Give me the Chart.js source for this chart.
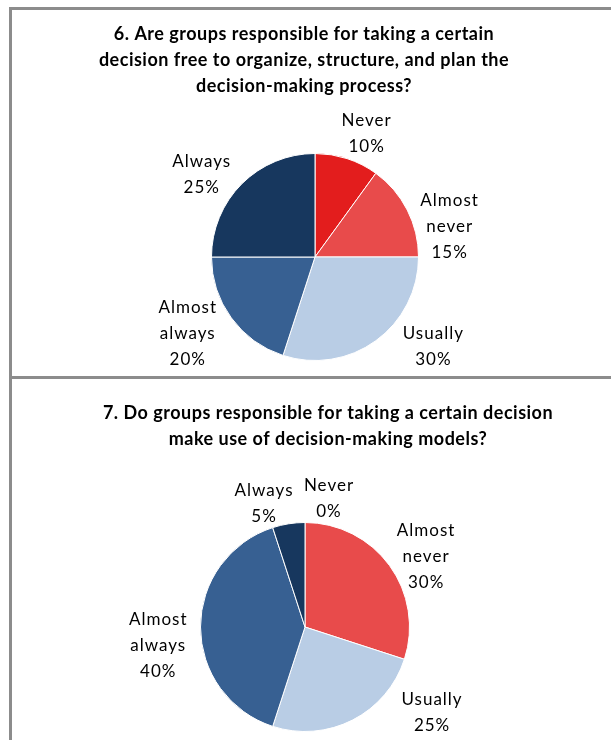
<!DOCTYPE html>
<html>
<head>
<meta charset="utf-8">
<script src="https://cdn.jsdelivr.net/npm/chart.js@4.4.1/dist/chart.umd.min.js"></script>
<style>
  html, body { margin: 0; padding: 0; background: #fff; width: 611px; height: 740px; overflow: hidden; }
  .panel { position: absolute; left: 0; width: 611px; }
  #p6 { top: 0; height: 376px; }
  #p7 { top: 376px; height: 364px; }
  .frame { position: absolute; left: 9px; width: 700px; border: 3px solid #8c8c8c; box-sizing: border-box; pointer-events: none; }
  #f6 { top: 7px; height: 372px; }
  #f7 { top: 376px; height: 500px; }
</style>
</head>
<body>
<div class="panel" id="p6"><canvas id="chart6"></canvas></div>
<div class="panel" id="p7"><canvas id="chart7"></canvas></div>
<div class="frame" id="f6"></div>
<div class="frame" id="f7"></div>

<script>
// --- Data ---
const categories = ['Never', 'Almost never', 'Usually', 'Almost always', 'Always'];
const q6Values = [10, 15, 30, 20, 25];
const q7Values = [0, 30, 25, 40, 5];
const q6Title = ['6. Are groups responsible for taking a certain', 'decision free to organize, structure, and plan the', 'decision-making process?'];
const q7Title = ['7. Do groups responsible for taking a certain decision', 'make use of decision-making models?'];
const sliceColors = ['#e31d1d', '#e84b4b', '#b9cde5', '#376092', '#17375e'];

const FONT = "Lato, 'Open Sans', sans-serif";

// --- Title drawn on canvas ---
const panelTitle = {
    id: 'panelTitle',
    afterDraw(chart, args, opts) {
        const ctx = chart.ctx;
        ctx.save();
        ctx.font = `bold ${opts.size}px ${FONT}`;
        ctx.letterSpacing = '0.5px';
        ctx.fillStyle = '#000';
        ctx.textAlign = 'center';
        ctx.textBaseline = 'middle';
        opts.text.forEach((line, i) => ctx.fillText(line, opts.x, opts.y + i * opts.lineHeight));
        ctx.restore();
    }
};

// --- Outside-end labels: "Name / value%" next to each slice ---
// nudges: hand adjustments like Excel's dragged labels
const outsideLabels = {
    id: 'outsideLabels',
    afterDatasetsDraw(chart, args, opts) {
        const ctx = chart.ctx;
        const meta = chart.getDatasetMeta(0);
        const values = chart.data.datasets[0].data;
        ctx.save();
        ctx.font = `${opts.size}px ${FONT}`;
        ctx.letterSpacing = opts.letterSpacing;
        ctx.fillStyle = '#000';
        ctx.textAlign = 'center';
        ctx.textBaseline = 'middle';
        meta.data.forEach((arc, i) => {
            const { x, y, startAngle, endAngle, outerRadius } = arc.getProps(['x', 'y', 'startAngle', 'endAngle', 'outerRadius'], true);
            const mid = (startAngle + endAngle) / 2;
            const lines = [...chart.data.labels[i].split(' '), values[i] + '%'];
            const w = Math.max(...lines.map(l => ctx.measureText(l).width));
            const h = lines.length * opts.lineHeight;
            const c = Math.cos(mid), s = Math.sin(mid);
            const n = (opts.nudges && opts.nudges[i]) || [0, 0];
            const lx = x + c * (outerRadius + opts.gap + w / 2) + n[0];
            const ly = y + s * (outerRadius + opts.gap + h / 2) + n[1];
            lines.forEach((l, k) => ctx.fillText(l, lx, ly - h / 2 + opts.lineHeight * (k + 0.5)));
        });
        ctx.restore();
    }
};

function makePie(id, values, padding, title, nudges) {
    return new Chart(document.getElementById(id), {
        type: 'pie',
        data: {
            labels: categories,
            datasets: [{ data: values, backgroundColor: sliceColors, borderColor: '#ffffff', borderWidth: 1 }]
        },
        options: {
            responsive: true, maintainAspectRatio: false, animation: false,
            layout: { padding },
            plugins: {
                legend: { display: false },
                tooltip: { enabled: false },
                title: { display: false },
                panelTitle: title,
                outsideLabels: { size: 17, letterSpacing: '1px', lineHeight: 26, gap: 6, nudges }
            }
        },
        plugins: [panelTitle, outsideLabels]
    });
}

makePie('chart6', q6Values, { left: 211, right: 192, top: 153, bottom: 15 },
    { text: q6Title, x: 304, y: 34, lineHeight: 26, size: 18 },
    [[10, 5], [11, 37], [36, -20], [-15, -11], [-15, 13]]);
makePie('chart7', q7Values, { left: 200, right: 201, top: 146, bottom: 8 },
    { text: q7Title, x: 328, y: 37, lineHeight: 26, size: 18 },
    [[24, 8], [8, 17], [63, -36], [-7, 19], [-19, 11]]);
</script>
</body>
</html>
